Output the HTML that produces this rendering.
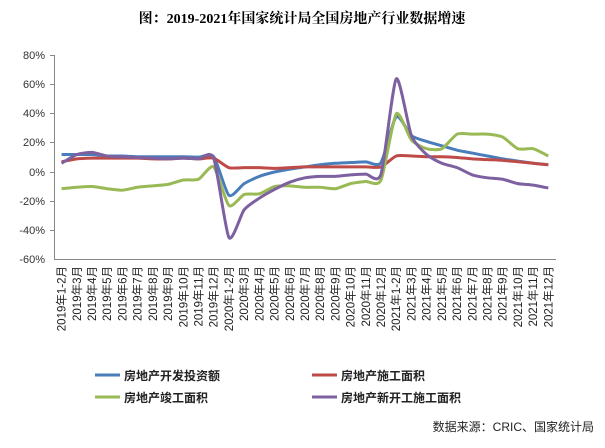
<!DOCTYPE html>
<html><head><meta charset="utf-8"><style>
body{margin:0;background:#fff;width:605px;height:443px;overflow:hidden}
svg text{font-family:"Liberation Sans","Noto Sans CJK SC",sans-serif}
</style></head><body>
<svg id="s" width="605" height="443" xmlns="http://www.w3.org/2000/svg">
<text x="302" y="23" text-anchor="middle" font-size="14" font-weight="bold" style="font-family:'Liberation Serif','Noto Serif CJK SC',serif">图：2019-2021年国家统计局全国房地产行业数据增速</text>
<g font-size="11" fill="#333" text-anchor="end">
<text x="45" y="59">80%</text><text x="45" y="88">60%</text><text x="45" y="117">40%</text>
<text x="45" y="146">20%</text><text x="45" y="176">0%</text><text x="45" y="205">-20%</text>
<text x="45" y="234">-40%</text><text x="45" y="263">-60%</text>
</g>
<g stroke="#888" stroke-width="1">
<line x1="54.5" y1="55" x2="54.5" y2="259"/><line x1="54" y1="259.5" x2="556" y2="259.5"/>
<line x1="50" y1="55.5" x2="54" y2="55.5"/><line x1="50" y1="84.5" x2="54" y2="84.5"/><line x1="50" y1="113.5" x2="54" y2="113.5"/><line x1="50" y1="142.5" x2="54" y2="142.5"/><line x1="50" y1="172.5" x2="54" y2="172.5"/><line x1="50" y1="201.5" x2="54" y2="201.5"/><line x1="50" y1="230.5" x2="54" y2="230.5"/>
</g>
<g id="xl" font-size="11.5" fill="#222" text-anchor="end">
<text>2019年1-2月</text><text>2019年3月</text><text>2019年4月</text><text>2019年5月</text><text>2019年6月</text><text>2019年7月</text><text>2019年8月</text><text>2019年9月</text><text>2019年10月</text><text>2019年11月</text><text>2019年12月</text>
<text>2020年1-2月</text><text>2020年3月</text><text>2020年4月</text><text>2020年5月</text><text>2020年6月</text><text>2020年7月</text><text>2020年8月</text><text>2020年9月</text><text>2020年10月</text><text>2020年11月</text><text>2020年12月</text>
<text>2021年1-2月</text><text>2021年3月</text><text>2021年4月</text><text>2021年5月</text><text>2021年6月</text><text>2021年7月</text><text>2021年8月</text><text>2021年9月</text><text>2021年10月</text><text>2021年11月</text><text>2021年12月</text>
</g>
<g id="lines" fill="none" stroke-width="3" stroke-linejoin="round"></g>
<g stroke-width="3">
<line x1="95" y1="375" x2="120" y2="375" stroke="#4a7ebb"/>
<line x1="312" y1="375" x2="337" y2="375" stroke="#be4b48"/>
<line x1="95" y1="397" x2="120" y2="397" stroke="#98b954"/>
<line x1="312" y1="397" x2="337" y2="397" stroke="#7d60a0"/>
</g>
<g font-size="12" font-weight="bold" fill="#222">
<text x="124" y="380">房地产开发投资额</text>
<text x="341" y="380">房地产施工面积</text>
<text x="124" y="402">房地产竣工面积</text>
<text x="341" y="402">房地产新开工施工面积</text>
</g>
<text x="594" y="431" text-anchor="end" font-size="12" fill="#222">数据来源：CRIC、国家统计局</text>
</svg>
<script>
var ts=document.querySelectorAll('#xl text');
ts.forEach(function(t,i){var x=61.6+i*15.21+4;t.setAttribute('transform','translate('+x+',266) rotate(-90)');});
var D=[
["#4a7ebb",[12,12,12,11,11,10.5,10.5,10.5,10.5,10.2,10.5,-16,-8,-3,0,2,3.5,5,6,6.5,7,6.5,38,25,21,18,15,13,11,9,7.5,6,5]],
["#be4b48",[7,9,9.5,9.5,9.5,9.5,9,9,9.5,9,9.5,3,3,3,2.5,3,3.5,3.5,3.5,3.5,3.5,3.5,11,11,10.5,10.5,10,9,8.5,8,7,6,5]],
["#98b954",[-11.5,-10.5,-10,-11.5,-12.5,-10.5,-9.5,-8.5,-5.5,-5,3.5,-23,-15.5,-15,-10,-9.5,-10.5,-10.5,-11.5,-8,-6.5,-5.5,40,22,16,16,26,26,26,24,16,16,11]],
["#7d60a0",[6,12,13.5,11,10.5,10,9.5,9,9.5,9,9.5,-45,-26,-18,-12,-7,-4,-3,-3,-2,-1.5,-1.5,64,25,12,6,3,-2,-4,-5,-8,-9,-11]]];
var g=document.getElementById('lines');
D.forEach(function(d){
 var p=d[1].map(function(v,i){return [61.6+i*15.21,172-v*1.455];});
 var s='M'+p[0][0]+','+p[0][1];
 for(var i=0;i<p.length-1;i++){
  var a=p[Math.max(i-1,0)],b=p[i],c=p[i+1],e=p[Math.min(i+2,p.length-1)];
  var k=0.11;
  s+=' C'+(b[0]+(c[0]-a[0])*k)+','+(b[1]+(c[1]-a[1])*k)+' '+(c[0]-(e[0]-b[0])*k)+','+(c[1]-(e[1]-b[1])*k)+' '+c[0]+','+c[1];
 }
 var el=document.createElementNS('http://www.w3.org/2000/svg','path');
 el.setAttribute('d',s);el.setAttribute('stroke',d[0]);g.appendChild(el);
});
</script>
</body></html>
